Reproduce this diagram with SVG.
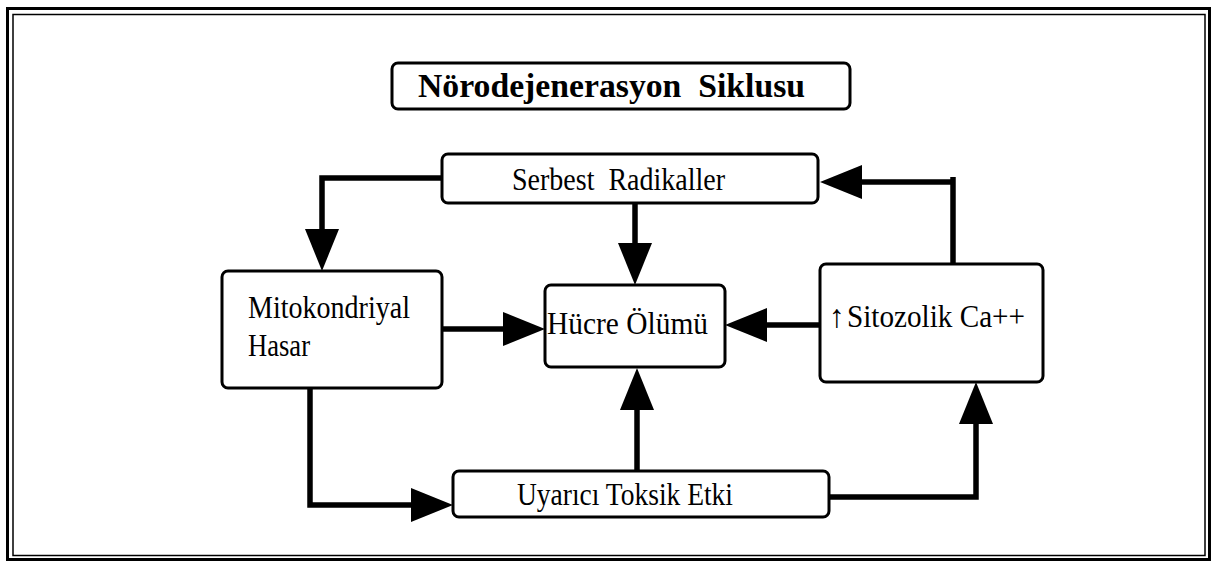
<svg xmlns="http://www.w3.org/2000/svg" width="1213" height="563" viewBox="0 0 1213 563">
<style>
.box{fill:#fff;stroke:#000;stroke-width:3}
.t{font-family:"Liberation Serif","Times New Roman",serif;font-size:32px;fill:#000;white-space:pre}
.title{font-family:"Liberation Serif","Times New Roman",serif;font-size:34px;font-weight:bold;fill:#000;white-space:pre}
.c{fill:none;stroke:#000;stroke-width:5.5;stroke-linejoin:miter;stroke-linecap:butt}
</style>
<defs>
<marker id="ah" markerUnits="userSpaceOnUse" markerWidth="42" markerHeight="34" viewBox="0 0 42 34" refX="0" refY="17" orient="auto">
<path d="M0,0 L42,17 L0,34 Z" fill="#000"/>
</marker>
</defs>
<rect width="1213" height="563" fill="#fff"/>
<g id="frame">
<rect x="7.5" y="8.5" width="1202" height="551" fill="none" stroke="#000" stroke-width="3"/>
<rect x="13" y="14.5" width="1192" height="541" fill="none" stroke="#000" stroke-width="1.5"/>
</g>
<g id="title">
<rect class="box" x="392" y="63" width="458" height="46" rx="6"/>
<text class="title" x="418" y="97" textLength="387" lengthAdjust="spacingAndGlyphs" xml:space="preserve">Nörodejenerasyon  Siklusu</text>
</g>
<g id="connectors">
<path class="c" d="M442,178 H322 V229" marker-end="url(#ah)"/>
<path class="c" d="M635,203 V243" marker-end="url(#ah)"/>
<path class="c" d="M442,329 H503" marker-end="url(#ah)"/>
<path class="c" d="M820,325 H767" marker-end="url(#ah)"/>
<path class="c" d="M953,264 V177"/>
<path class="c" d="M953,182 H862" marker-end="url(#ah)"/>
<path class="c" d="M310,388 V505 H411" marker-end="url(#ah)"/>
<path class="c" d="M637,471 V410" marker-end="url(#ah)"/>
<path class="c" d="M829,497 H976 V424" marker-end="url(#ah)"/>
</g>
<g id="serbest">
<rect class="box" x="442" y="154" width="376" height="49" rx="6"/>
<text class="t" x="512" y="190" textLength="213" lengthAdjust="spacingAndGlyphs" xml:space="preserve">Serbest  Radikaller</text>
</g>
<g id="mitokondriyal">
<rect class="box" x="222" y="271" width="220" height="117" rx="6"/>
<text class="t" x="248" y="318" textLength="162" lengthAdjust="spacingAndGlyphs">Mitokondriyal</text>
<text class="t" x="248" y="356" textLength="62" lengthAdjust="spacingAndGlyphs">Hasar</text>
</g>
<g id="hucre">
<rect class="box" x="545" y="285" width="180" height="82" rx="6"/>
<text class="t" x="547" y="334" textLength="161" lengthAdjust="spacingAndGlyphs">Hücre Ölümü</text>
</g>
<g id="sitozolik">
<rect class="box" x="820" y="264" width="223" height="118" rx="6"/>
<text class="t" x="829" y="327" textLength="16" lengthAdjust="spacingAndGlyphs">↑</text>
<text class="t" x="847" y="327" textLength="178" lengthAdjust="spacingAndGlyphs">Sitozolik Ca++</text>
</g>
<g id="uyarici">
<rect class="box" x="453" y="471" width="376" height="46" rx="6"/>
<text class="t" x="517" y="505" textLength="216" lengthAdjust="spacingAndGlyphs">Uyarıcı Toksik Etki</text>
</g>
</svg>
